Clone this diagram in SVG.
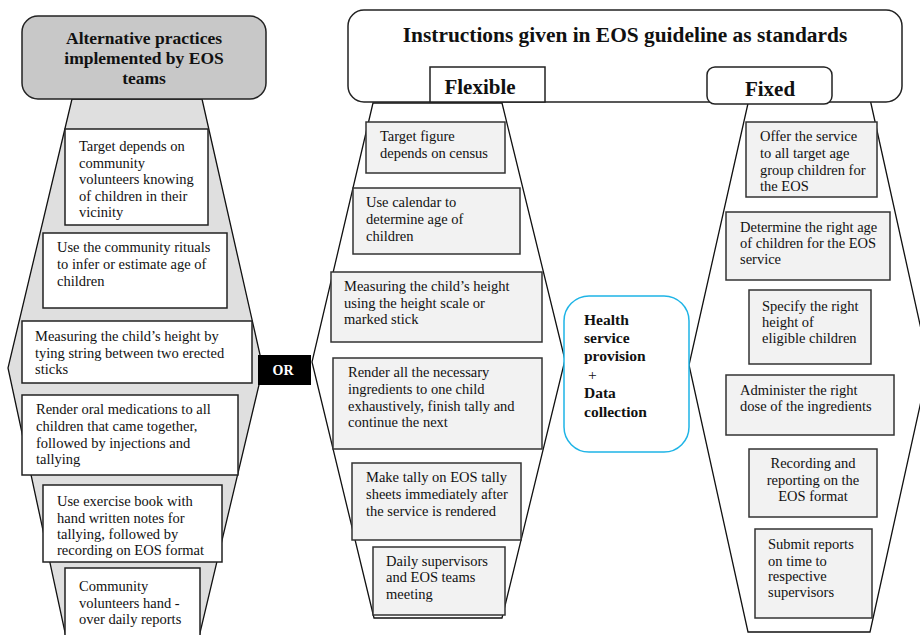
<svg xmlns="http://www.w3.org/2000/svg" width="920" height="635" viewBox="0 0 920 635">
<style>
  .bg{fill:#ffffff}
  .hex{stroke:#111;stroke-width:1.3;fill:none}
  .hexl{stroke:#111;stroke-width:1.3;fill:#dfdfdf}
  .wb{fill:#ffffff;stroke:#222;stroke-width:1.5}
  .gb{fill:#f2f2f2;stroke:#333;stroke-width:1.5}
  text{font-family:"Liberation Serif","Times New Roman",serif;fill:#111}
  .t{font-size:14.5px}
  .h{font-size:17.5px;font-weight:bold;text-anchor:middle}
  .hb{font-weight:bold}
</style>
<rect class="bg" x="0" y="0" width="920" height="635"/>

<g id="frames">
  <polygon class="hexl" points="72,99 202,99 263,368 199,637 66,637 8,368"/>
  <polygon class="hex" points="373,103 502,103 565,360 502,618 374,618 312,362"/>
  <polygon class="hex" points="749,99 870,99 929,365 870,632 748,632 689,365"/>
</g>

<g id="alt-header">
  <rect x="22" y="16" width="244" height="83" rx="16" fill="#c8c8c8" stroke="#222" stroke-width="1.5"/>
  <text class="h" x="144" y="44">Alternative practices</text>
  <text class="h" x="144" y="64">implemented by EOS</text>
  <text class="h" x="144" y="84">teams</text>
</g>

<g id="std-header">
  <rect x="348" y="10" width="554" height="92" rx="16" fill="#fff" stroke="#222" stroke-width="1.5"/>
  <text class="hb" x="625" y="42" font-size="21.4" text-anchor="middle">Instructions given in EOS guideline as standards</text>
</g>
<g id="flexible-header">
  <rect x="430" y="67" width="115" height="35" fill="#fff" stroke="#222" stroke-width="1.5"/>
  <text class="hb" x="480" y="94" font-size="21" text-anchor="middle">Flexible</text>
</g>
<g id="fixed-header">
  <rect x="707" y="67" width="125" height="37" rx="8" fill="#fff" stroke="#222" stroke-width="1.5"/>
  <text class="hb" x="770" y="96" font-size="21" text-anchor="middle">Fixed</text>
</g>

<g id="alt1">
  <rect class="wb" x="65" y="129" width="143" height="96"/>
  <text class="t" x="79" y="151">Target depends on</text>
  <text class="t" x="79" y="167.5">community</text>
  <text class="t" x="79" y="184">volunteers knowing</text>
  <text class="t" x="79" y="200.5">of children in their</text>
  <text class="t" x="79" y="217">vicinity</text>
</g>
<g id="alt2">
  <rect class="wb" x="43" y="233" width="184" height="75"/>
  <text class="t" x="57" y="252">Use the community rituals</text>
  <text class="t" x="57" y="269">to infer or estimate age of</text>
  <text class="t" x="57" y="286">children</text>
</g>
<g id="alt3">
  <rect class="wb" x="22" y="321" width="230" height="62"/>
  <text class="t" x="35" y="341">Measuring the child’s height by</text>
  <text class="t" x="35" y="357.5">tying string between two erected</text>
  <text class="t" x="35" y="374">sticks</text>
</g>
<g id="alt4">
  <rect class="wb" x="22" y="395" width="216" height="80"/>
  <text class="t" x="36" y="414">Render oral medications to all</text>
  <text class="t" x="36" y="431">children that came together,</text>
  <text class="t" x="36" y="448">followed by injections and</text>
  <text class="t" x="36" y="464">tallying</text>
</g>
<g id="alt5">
  <rect class="wb" x="43" y="485" width="179" height="77"/>
  <text class="t" x="57" y="506">Use exercise book with</text>
  <text class="t" x="57" y="523">hand written notes for</text>
  <text class="t" x="57" y="539">tallying, followed by</text>
  <text class="t" x="57" y="555">recording on EOS format</text>
</g>
<g id="alt6">
  <rect class="wb" x="65" y="568" width="135" height="80"/>
  <text class="t" x="79" y="591">Community</text>
  <text class="t" x="79" y="608">volunteers hand -</text>
  <text class="t" x="79" y="624">over daily reports</text>
</g>

<g id="or">
  <rect x="258" y="355" width="53" height="30" fill="#000"/>
  <text x="283" y="375" font-size="14" font-weight="bold" text-anchor="middle" style="fill:#fff">OR</text>
</g>

<g id="flex1">
  <rect class="gb" x="366" y="122" width="139" height="51"/>
  <text class="t" x="380" y="141">Target figure</text>
  <text class="t" x="380" y="157.5">depends on census</text>
</g>
<g id="flex2">
  <rect class="gb" x="353" y="188" width="167" height="66"/>
  <text class="t" x="366" y="207">Use calendar to</text>
  <text class="t" x="366" y="224">determine age of</text>
  <text class="t" x="366" y="241">children</text>
</g>
<g id="flex3">
  <rect class="gb" x="331" y="272" width="211" height="70"/>
  <text class="t" x="344" y="291">Measuring the child’s height</text>
  <text class="t" x="344" y="308">using the height scale or</text>
  <text class="t" x="344" y="324">marked stick</text>
</g>
<g id="flex4">
  <rect class="gb" x="333" y="358" width="209" height="91"/>
  <text class="t" x="348" y="377">Render all the necessary</text>
  <text class="t" x="348" y="394">ingredients to one child</text>
  <text class="t" x="348" y="411">exhaustively, finish tally and</text>
  <text class="t" x="348" y="427">continue the next</text>
</g>
<g id="flex5">
  <rect class="gb" x="352" y="463" width="169" height="77"/>
  <text class="t" x="366" y="482">Make tally on EOS tally</text>
  <text class="t" x="366" y="499">sheets immediately after</text>
  <text class="t" x="366" y="516">the service is rendered</text>
</g>
<g id="flex6">
  <rect class="gb" x="373" y="547" width="132" height="68"/>
  <text class="t" x="386" y="566">Daily supervisors</text>
  <text class="t" x="386" y="582">and EOS teams</text>
  <text class="t" x="386" y="599">meeting</text>
</g>

<g id="health">
  <rect x="564" y="296" width="125" height="156" rx="25" fill="#fff" stroke="#1eb4e6" stroke-width="1.5"/>
  <text class="hb" x="584" y="325" font-size="15.5">Health</text>
  <text class="hb" x="584" y="343" font-size="15.5">service</text>
  <text class="hb" x="584" y="361" font-size="15.5">provision</text>
  <text x="588" y="380" font-size="15.5">+</text>
  <text class="hb" x="584" y="398" font-size="15.5">Data</text>
  <text class="hb" x="584" y="417" font-size="15.5">collection</text>
</g>

<g id="fix1">
  <rect class="gb" x="746" y="122" width="131" height="75"/>
  <text class="t" x="760" y="141">Offer the service</text>
  <text class="t" x="760" y="158">to all target age</text>
  <text class="t" x="760" y="175">group children for</text>
  <text class="t" x="760" y="191">the EOS</text>
</g>
<g id="fix2">
  <rect class="gb" x="726" y="212" width="164" height="68"/>
  <text class="t" x="740" y="232">Determine the right age</text>
  <text class="t" x="740" y="248">of children for the EOS</text>
  <text class="t" x="740" y="264">service</text>
</g>
<g id="fix3">
  <rect class="gb" x="749" y="290" width="122" height="74"/>
  <text class="t" x="762" y="311">Specify the right</text>
  <text class="t" x="762" y="327">height of</text>
  <text class="t" x="762" y="343">eligible children</text>
</g>
<g id="fix4">
  <rect class="gb" x="726" y="375" width="168" height="60"/>
  <text class="t" x="740" y="395">Administer the right</text>
  <text class="t" x="740" y="411">dose of the ingredients</text>
</g>
<g id="fix5">
  <rect class="gb" x="749" y="449" width="128" height="68"/>
  <text class="t" x="813" y="468" text-anchor="middle">Recording and</text>
  <text class="t" x="813" y="485" text-anchor="middle">reporting on the</text>
  <text class="t" x="813" y="501" text-anchor="middle">EOS format</text>
</g>
<g id="fix6">
  <rect class="gb" x="755" y="529" width="117" height="89"/>
  <text class="t" x="768" y="549">Submit reports</text>
  <text class="t" x="768" y="566">on time to</text>
  <text class="t" x="768" y="581">respective</text>
  <text class="t" x="768" y="597">supervisors</text>
</g>

<g id="connectors"></g>
</svg>
